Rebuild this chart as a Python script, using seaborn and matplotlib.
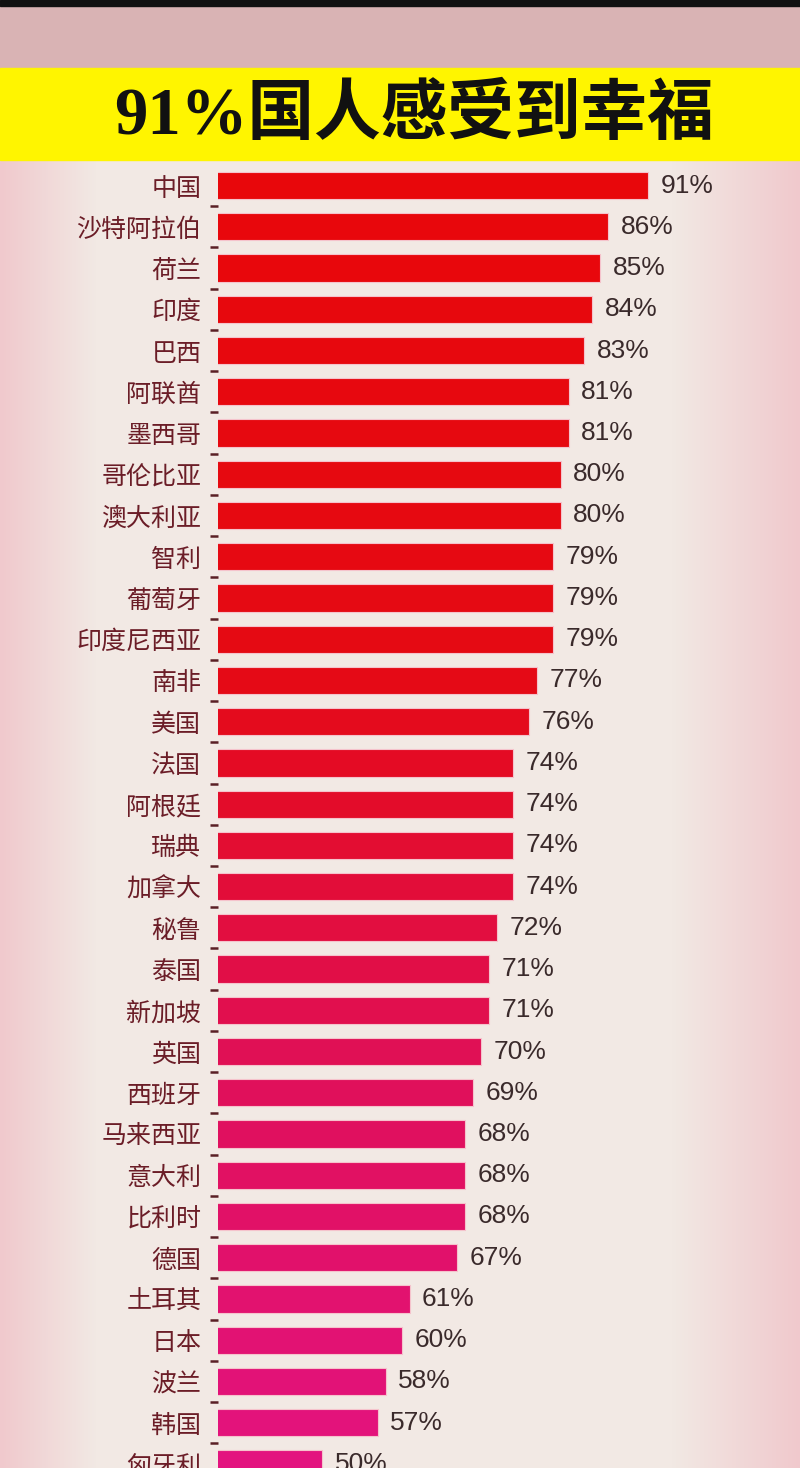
import numpy as np
import pandas as pd
import matplotlib
matplotlib.use("Agg")
import matplotlib.pyplot as plt
import seaborn as sns
from matplotlib.colors import LinearSegmentedColormap, to_hex, to_rgb
from matplotlib.patches import Rectangle

countries = [
    "中国", "沙特阿拉伯", "荷兰", "印度", "巴西", "阿联酋", "墨西哥", "哥伦比亚",
    "澳大利亚", "智利", "葡萄牙", "印度尼西亚", "南非", "美国", "法国", "阿根廷",
    "瑞典", "加拿大", "秘鲁", "泰国", "新加坡", "英国", "西班牙", "马来西亚",
    "意大利", "比利时", "德国", "土耳其", "日本", "波兰", "韩国", "匈牙利",
]
happy_pct = [
    91, 86, 85, 84, 83, 81, 81, 80,
    80, 79, 79, 79, 77, 76, 74, 74,
    74, 74, 72, 71, 71, 70, 69, 68,
    68, 68, 67, 61, 60, 58, 57, 50,
]
title = "91%国人感受到幸福"

sns.set_theme(style="white")
plt.rcParams['font.family'] = ['Noto Sans CJK SC', 'DejaVu Sans']

df = pd.DataFrame({"country": countries, "pct": happy_pct})

# red at the top, drifting to magenta towards the bottom
cmap = LinearSegmentedColormap.from_list(
    "redpink",
    [(0.0, "#e8070b"), (0.38, "#e50a14"), (0.70, "#e0105a"), (1.0, "#e3137f")],
)
n = len(countries)
bar_colors = [to_hex(cmap(i / (n - 1))) for i in range(n)]
palette = dict(zip(countries, bar_colors))

fig = plt.figure(figsize=(8, 14.68), dpi=100)
fig.patch.set_facecolor("#f0e1de")

# soft background: pink edges, pale centre
bg = fig.add_axes([0, 0, 1, 1], zorder=-5)
xs = np.linspace(0, 1, 400)
edge = np.array(to_rgb("#f0c9cd"))
mid = np.array(to_rgb("#f2e9e4"))
w = np.clip(np.minimum(xs / 0.12, (1 - xs) / 0.16), 0, 1)[:, None]
row = edge * (1 - w) + mid * w
img = np.repeat(row[None, :, :], 10, axis=0)
bg.imshow(img, aspect="auto", extent=[0, 1, 0, 1])
bg.set_axis_off()

fig.patches.append(Rectangle((0, 1 - 70 / 1468), 1, 66 / 1468, transform=fig.transFigure,
                             color="#d9b3b4", zorder=-1))
fig.patches.append(Rectangle((0, 1 - 6 / 1468), 1, 6 / 1468, transform=fig.transFigure,
                             color="#111111", zorder=1))
fig.patches.append(Rectangle((0, 1 - 160 / 1468), 1, 92 / 1468, transform=fig.transFigure,
                             color="#fff500", zorder=0))

fig.text(0.518, 1 - 116 / 1468, title, ha="center", va="center",
         fontsize=48, fontweight="bold", color="#111111",
         family=["Liberation Serif", "Noto Sans CJK SC"])

ax = fig.add_axes([218 / 800, 0, 542 / 800, 1 - 165 / 1468])
ax.set_facecolor("none")

sns.barplot(data=df, x="pct", y="country", hue="country", palette=palette,
            legend=False, width=0.66, orient="h", ax=ax, saturation=1,
            edgecolor="#f5c3cc", linewidth=0.8)

for cont in ax.containers:
    ax.bar_label(cont, labels=[f"{int(v)}%" for v in cont.datavalues],
                 padding=9, fontsize=19, color="#3a2a2b",
                 family=["Liberation Sans", "DejaVu Sans"])

ax.set_xlabel("")
ax.set_ylabel("")
ax.set_xticks([])
ax.set_yticks(np.arange(n) + 0.5, minor=True)
ax.tick_params(axis="y", which="major", left=False, length=0, pad=12,
               labelsize=18, labelcolor="#6b1d27")
ax.tick_params(axis="y", which="minor", left=True, length=6, width=1.8,
               color="#5a1f25", direction="out")
for side in ["top", "right", "bottom", "left"]:
    ax.spines[side].set_visible(False)

ax.set_xlim(36.9, 36.9 + 542 / 7.95)
ax.set_ylim(31.1, -0.5)

fig.savefig("out.png", dpi=100, facecolor=fig.get_facecolor())
